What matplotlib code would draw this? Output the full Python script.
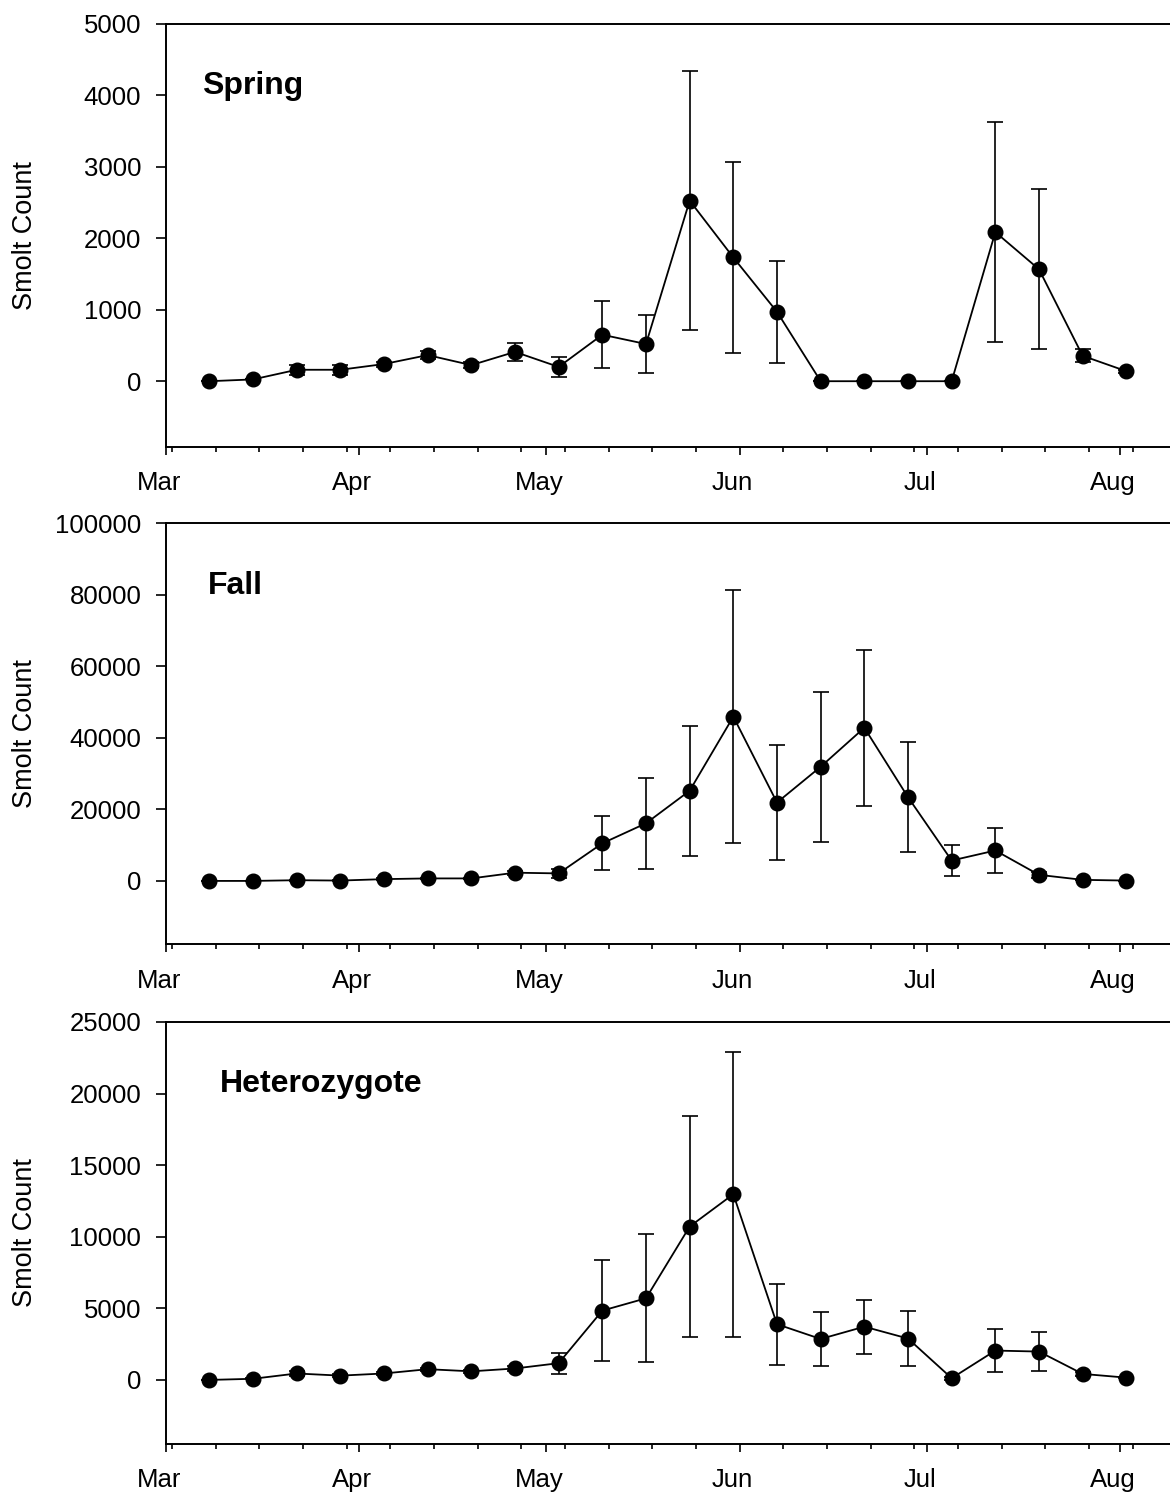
import matplotlib
matplotlib.use('Agg')
import matplotlib.pyplot as plt
import matplotlib.dates as mdates
import matplotlib.transforms as mtransforms
from matplotlib.ticker import StrMethodFormatter
import pandas as pd

plt.rcParams['font.family'] = ['Liberation Sans', 'DejaVu Sans']

# weekly sampling dates
dates = pd.to_datetime([
    '2014-03-08', '2014-03-15', '2014-03-22', '2014-03-29',
    '2014-04-05', '2014-04-12', '2014-04-19', '2014-04-26',
    '2014-05-03', '2014-05-10', '2014-05-17', '2014-05-24',
    '2014-05-31', '2014-06-07', '2014-06-14', '2014-06-21',
    '2014-06-28', '2014-07-05', '2014-07-12', '2014-07-19',
    '2014-07-26', '2014-08-02'])

spring_mean = [0, 25, 160, 160, 240, 365, 225, 410, 200, 650, 520, 2525,
               1730, 970, 0, 0, 0, 0, 2085, 1565, 355, 140]
spring_se = [0, 0, 70, 70, 35, 60, 45, 130, 145, 470, 410, 1815,
             1330, 715, 0, 0, 0, 0, 1540, 1120, 90, 20]

fall_mean = [0, 0, 200, 100, 500, 700, 700, 2300, 2100, 10500, 16100, 25200,
             45900, 21900, 31900, 42800, 23400, 5700, 8500, 1700, 300, 100]
fall_se = [0, 0, 100, 100, 200, 200, 200, 600, 1200, 7500, 12700, 18100,
           35300, 16000, 21000, 21800, 15300, 4250, 6150, 900, 0, 0]

het_mean = [0, 80, 450, 300, 450, 750, 600, 800, 1170, 4840, 5700, 10710,
            12970, 3890, 2860, 3720, 2890, 120, 2050, 1980, 420, 160]
het_se = [0, 50, 150, 100, 100, 100, 100, 150, 730, 3500, 4480, 7690,
          9950, 2840, 1880, 1880, 1920, 100, 1520, 1380, 120, 50]

spring_ticks = [0, 1000, 2000, 3000, 4000, 5000]
fall_ticks = [0, 20000, 40000, 60000, 80000, 100000]
het_ticks = [0, 5000, 10000, 15000, 20000, 25000]

panels = [
    # title, mean, se, ticks, ymin, axes box, title pos
    ("Spring", spring_mean, spring_se, spring_ticks, -920,
     [0.1416, 0.7012, 0.8584, 0.283], (0.036, 0.833)),
    ("Fall", fall_mean, fall_se, fall_ticks, -17700,
     [0.1416, 0.3688, 0.8584, 0.2816], (0.042, 0.831)),
    ("Heterozygote", het_mean, het_se, het_ticks, -4470,
     [0.1416, 0.0348, 0.8584, 0.2821], (0.054, 0.834)),
]

fig = plt.figure(figsize=(11.7, 14.96), dpi=100)
x0 = pd.Timestamp('2014-03-01')

for title, mean, se, ticks, ymin, box, tpos in panels:
    ax = fig.add_axes(box)
    ax.errorbar(dates, mean, yerr=se, color='black', lw=1.3, marker='o',
                ms=10.5, capsize=6, elinewidth=1.2, capthick=1.2)
    ax.set_xlim(x0, x0 + pd.Timedelta(days=161))
    ax.set_ylim(ymin, ticks[-1])
    ax.set_yticks(ticks)
    ax.yaxis.set_major_formatter(StrMethodFormatter('{x:.0f}'))
    ax.xaxis.set_major_locator(mdates.MonthLocator())
    ax.xaxis.set_major_formatter(mdates.DateFormatter('%b'))
    ax.xaxis.set_minor_locator(mdates.WeekdayLocator(byweekday=mdates.SU))
    ax.spines['right'].set_visible(False)
    for s in ['left', 'top', 'bottom']:
        ax.spines[s].set_linewidth(1.4)
    ax.tick_params(axis='y', direction='out', length=7.5, width=1.2,
                   pad=10, labelsize=18.5)
    ax.tick_params(axis='x', which='major', direction='out', length=5.5,
                   width=1.2, pad=12, labelsize=18.5)
    ax.tick_params(axis='x', which='minor', direction='out', length=3.5, width=1.2)

    # month labels sit slightly left of their ticks
    offset = mtransforms.ScaledTranslation(-0.07, 0, fig.dpi_scale_trans)
    for lab in ax.get_xticklabels():
        lab.set_transform(lab.get_transform() + offset)

    ax.text(tpos[0], tpos[1], title, transform=ax.transAxes, fontsize=23,
            fontweight='bold', va='baseline', ha='left')
    fig.text(25 / 1170, box[1] + box[3] / 2, 'Smolt Count', rotation=90,
             fontsize=19.5, ha='center', va='center')

fig.savefig('out.png', dpi=100)
